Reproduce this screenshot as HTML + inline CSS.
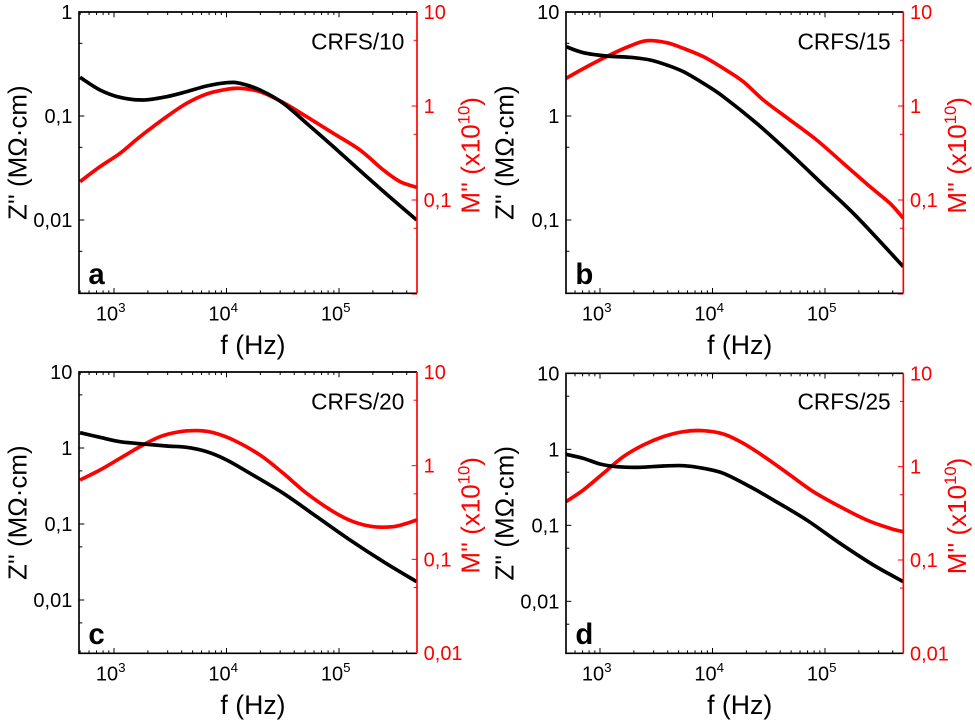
<!DOCTYPE html>
<html><head><meta charset="utf-8"><style>
html,body{margin:0;padding:0;background:#fff}
svg{display:block}
text{font-family:"Liberation Sans",Arial,sans-serif}
</style></head><body>
<svg id="s" width="975" height="723" viewBox="0 0 975 723" xmlns="http://www.w3.org/2000/svg"></svg>
<script>
var NS="http://www.w3.org/2000/svg";
var svg=document.getElementById('s');
function el(p,n,a,t){var e=document.createElementNS(NS,n);for(var k in a)e.setAttribute(k,a[k]);if(t!==undefined)e.textContent=t;p.appendChild(e);return e;}
var P=[
 {ox:0,oy:0,L:237,R:1251,T:36,B:880,x3:342,xd:337.5,lt:0,ld:312,ll:["1","0,1","0,01"],rt:1,rd:282,rl:["10","1","0,1"],name:"CRFS/10",let:"a",
  k:[[240,232],[300,270],[360,292],[430,300],[500,290],[560,275],[620,258],[680,248],[720,250],[780,270],[850,310],[920,370],[1000,440],[1100,530],[1180,600],[1250,660]],
  r:[[240,545],[300,500],[360,460],[420,410],[500,350],[560,310],[620,282],[680,268],[720,265],[780,275],[850,308],[920,350],[1000,400],[1080,450],[1150,510],[1200,545],[1250,562]]},
 {ox:490,oy:0,L:228,R:1240,T:36,B:880,x3:330,xd:337.5,lt:1,ld:312,ll:["10","1","0,1"],rt:1,rd:282,rl:["10","1","0,1"],name:"CRFS/15",let:"b",
  k:[[228,140],[280,158],[350,168],[420,172],[480,180],[530,195],[580,215],[640,250],[700,290],[800,370],[900,460],[1000,555],[1100,650],[1240,800]],
  r:[[228,235],[300,195],[370,160],[420,138],[470,122],[530,128],[580,145],[640,170],[700,205],[760,245],[820,300],[900,360],[980,420],[1060,490],[1140,560],[1200,610],[1240,655]]},
 {ox:0,oy:360,L:237,R:1251,T:36,B:880,x3:342,xd:337.5,lt:1,ld:228,ll:["10","1","0,1","0,01"],rt:1,rd:281,rl:["10","1","0,1","0,01"],name:"CRFS/20",let:"c",
  k:[[240,218],[300,232],[360,245],[430,252],[500,258],[560,262],[620,275],[680,300],[750,340],[850,400],[950,470],[1050,540],[1150,605],[1250,665]],
  r:[[240,360],[300,330],[360,295],[420,260],[480,230],[540,215],[600,212],[640,218],[700,240],[780,285],[850,340],[920,400],[1000,455],[1060,485],[1120,500],[1180,500],[1220,490],[1250,480]]},
 {ox:490,oy:360,L:228,R:1240,T:40,B:880,x3:330,xd:337.5,lt:1,ld:228,ll:["10","1","0,1","0,01"],rt:1,rd:280,rl:["10","1","0,1","0,01"],name:"CRFS/25",let:"d",
  k:[[228,283],[280,295],[330,312],[380,320],[450,322],[520,318],[580,317],[640,325],[700,340],[780,380],[850,420],[950,480],[1050,550],[1150,615],[1240,665]],
  r:[[228,425],[280,390],[340,340],[400,290],[460,255],[520,230],[580,215],[640,212],[700,222],[760,250],[830,295],[900,345],[970,395],[1050,440],[1130,480],[1200,505],[1240,515]]}
];
function smooth(pts){var d="M"+pts[0][0]+","+pts[0][1];for(var i=0;i<pts.length-1;i++){var p0=pts[i-1]||pts[i],p1=pts[i],p2=pts[i+1],p3=pts[i+2]||p2;
 d+=" C"+(p1[0]+(p2[0]-p0[0])/6)+","+(p1[1]+(p2[1]-p0[1])/6)+" "+(p2[0]-(p3[0]-p1[0])/6)+","+(p2[1]-(p3[1]-p1[1])/6)+" "+p2[0]+","+p2[1];}return d;}
P.forEach(function(p){
 var g=el(svg,"g",{transform:"translate("+p.ox+","+p.oy+") scale(0.33333)"});
 var RED="#ff0000";
 for(var e=2;e<=5;e++)for(var m=1;m<=9;m++){var x=p.x3+(e-3+Math.log10(m))*p.xd;if(x<p.L+1||x>p.R-1)continue;var len=m==1?16:9;
  el(g,"line",{x1:x,x2:x,y1:p.B,y2:p.B-len,stroke:"#000","stroke-width":3});el(g,"line",{x1:x,x2:x,y1:p.T,y2:p.T+len,stroke:"#000","stroke-width":3});}
 ["3","4","5"].forEach(function(s,i){var x=p.x3+i*p.xd;var t=el(g,"text",{x:x-10,y:962,"font-size":60,"text-anchor":"middle"},"10");el(t,"tspan",{dy:-26,"font-size":40},s);});
 for(var i=0;i<8;i++){var y=p.T+i*p.ld;if(y<=p.B+2){el(g,"line",{x1:p.L,x2:p.L+16,y1:y,y2:y,stroke:"#000","stroke-width":3});
   if(p.ll[i])el(g,"text",{x:p.L-20,y:y+21,"font-size":60,"text-anchor":"end"},p.ll[i]);}
  var ym=y+p.ld*0.301;if(ym<p.B-2)el(g,"line",{x1:p.L,x2:p.L+10,y1:ym,y2:ym,stroke:"#000","stroke-width":3});}
 for(var i=0;i<8;i++){var y=p.T+i*p.rd;if(y<=p.B+2){el(g,"line",{x1:p.R,x2:p.R-16,y1:y,y2:y,stroke:RED,"stroke-width":3});
   if(p.rl[i])el(g,"text",{x:p.R+20,y:y+21,"font-size":60,fill:RED},p.rl[i]);}
  var ym=y+p.rd*0.301;if(ym<p.B-2)el(g,"line",{x1:p.R,x2:p.R-10,y1:ym,y2:ym,stroke:RED,"stroke-width":3});}
 var cp="c"+p.let;
 el(g,"clipPath",{id:cp});el(g.lastChild,"rect",{x:p.L,y:p.T,width:p.R-p.L,height:p.B-p.T});
 el(g,"path",{d:smooth(p.r),fill:"none",stroke:RED,"stroke-width":11,"clip-path":"url(#"+cp+")","stroke-linejoin":"round"});
 el(g,"path",{d:smooth(p.k),fill:"none",stroke:"#000","stroke-width":11,"clip-path":"url(#"+cp+")","stroke-linejoin":"round"});
 el(g,"path",{d:"M"+p.R+","+p.B+" L"+p.L+","+p.B+" L"+p.L+","+p.T+" L"+p.R+","+p.T,fill:"none",stroke:"#000","stroke-width":5});
 el(g,"line",{x1:p.R,x2:p.R,y1:p.T,y2:p.B,stroke:RED,"stroke-width":5});
 el(g,"text",{x:p.R-38,y:148,"font-size":68,"text-anchor":"end"},p.name);
 el(g,"text",{x:p.L+28,y:852,"font-size":88,"font-weight":"bold"},p.let);
 el(g,"text",{x:(p.L+p.R)/2+15,y:1062,"font-size":80,"text-anchor":"middle"},"f (Hz)");
 var cy=(p.T+p.B)/2;
 el(g,"text",{transform:"translate("+(p.L-158)+","+cy+") rotate(-90)","font-size":78,"text-anchor":"middle"},"Z'' (M\u03A9\u00B7cm)");
 var t=el(g,"text",{transform:"translate("+(p.R+188)+","+(cy+8)+") rotate(-90)","font-size":78,"text-anchor":"middle",fill:RED},"M'' (x10");
 el(t,"tspan",{dy:-30,"font-size":50},"10");el(t,"tspan",{dy:30},")");
});
</script>
</body></html>
